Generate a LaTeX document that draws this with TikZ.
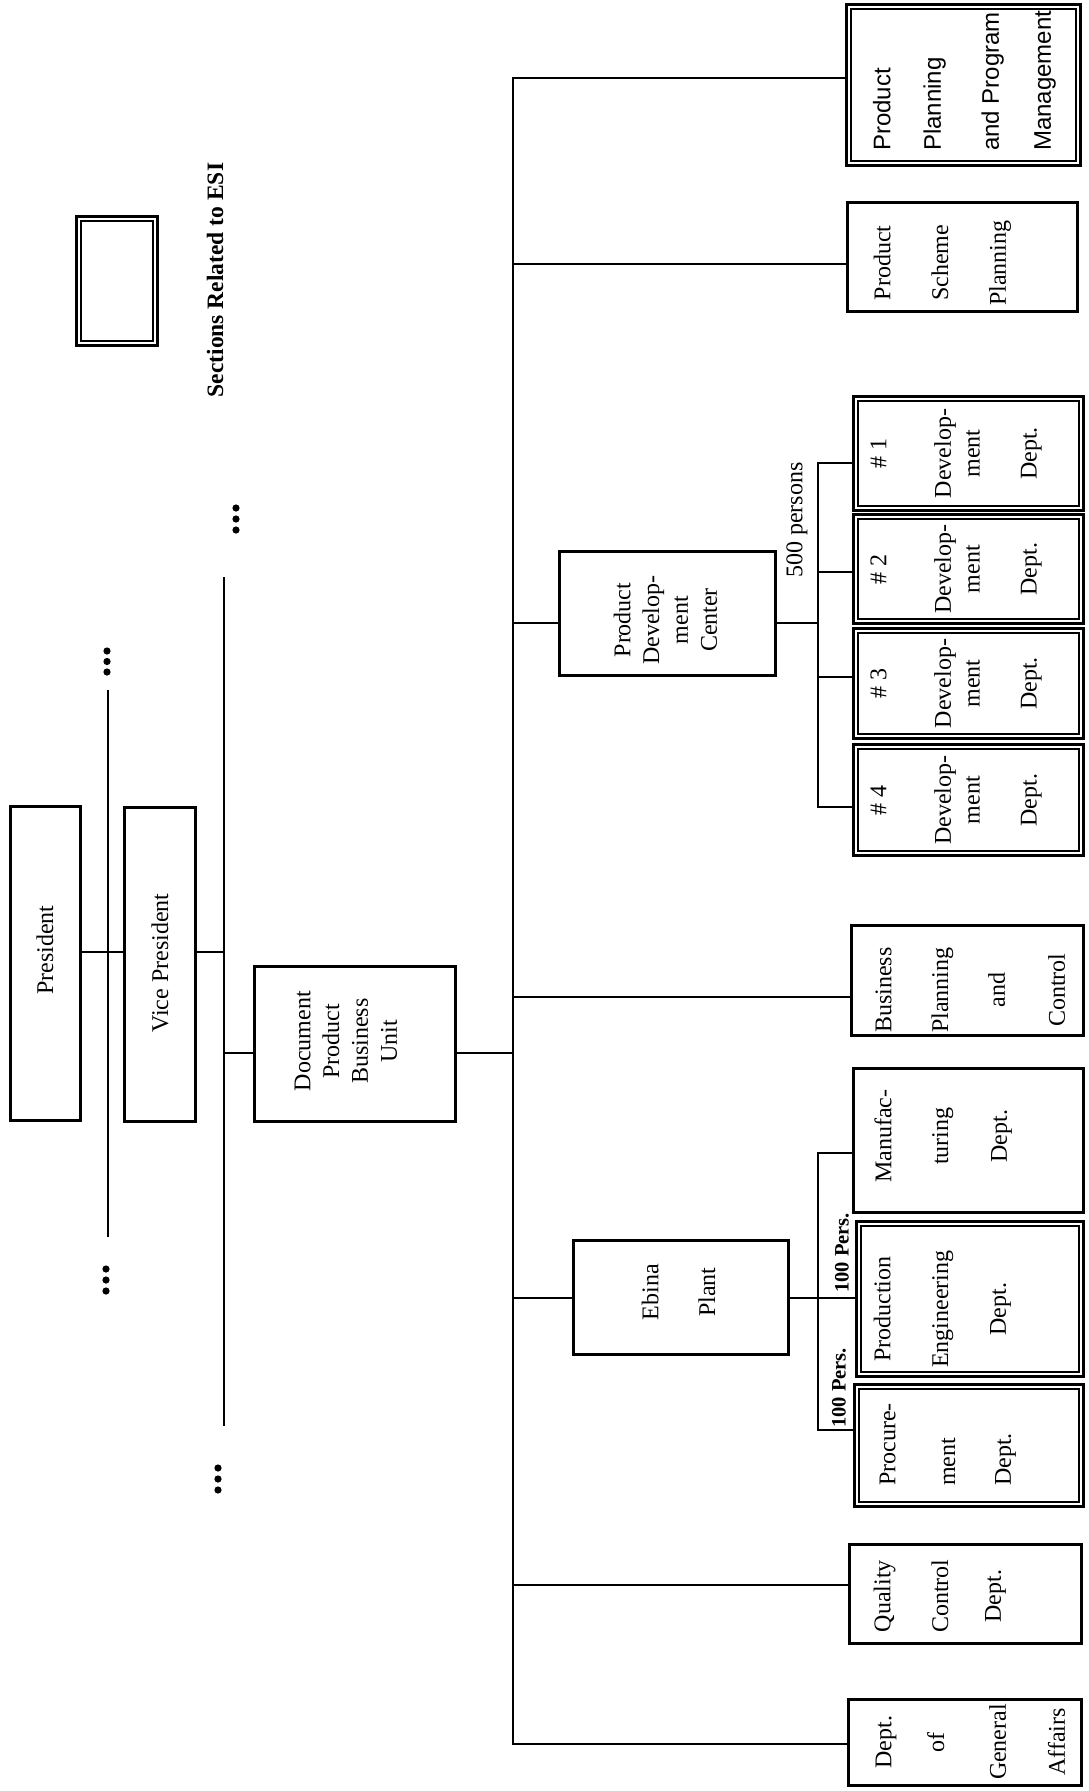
\documentclass[tikz,border=0pt]{standalone}
\usepackage{fontspec}
\usepackage{graphicx}
\setmainfont{Liberation Serif}
\newfontfamily\sansf{Liberation Sans}
\newcommand\mycol[1]{\begin{tabular}{@{}c@{}}#1\end{tabular}}
\newcommand\myleft[1]{\begin{tabular}{@{}l@{}}#1\end{tabular}}
\begin{document}
\begin{tikzpicture}[x=1pt,y=-1pt,
  box/.style={draw, line width=2.9pt, inner sep=0pt, outer sep=1.45pt},
  dbox/.style={draw, line width=2.6pt, double, double distance=2pt, inner sep=0pt, outer sep=3.6pt},
  conn/.style={line width=2.9pt, line join=miter},
  lbl/.style={rotate=90, inner sep=0pt, font=\fontsize{24}{28.8}\selectfont},
  blbl/.style={rotate=90, inner sep=0pt, font=\bfseries\fontsize{20.5}{24}\selectfont},
  dot/.style={fill=black}]
\useasboundingbox (0,0) rectangle (1088,1791);

% ---------- boxes ----------
\node[box, minimum width=70.1pt, minimum height=314.1pt] (pres) at (45.5,963.5) {};
\node[box, minimum width=71.1pt, minimum height=314.1pt] (vp) at (160,964.5) {};
\node[box, minimum width=201.1pt, minimum height=155.1pt] (doc) at (355,1044) {};
\node[dbox, minimum width=76.8pt, minimum height=124.8pt] (legend) at (117,281) {};
\node[dbox, minimum width=229.8pt, minimum height=156.8pt] (pppm) at (963.5,85) {};
\node[box, minimum width=230.1pt, minimum height=109.1pt] (psp) at (962.5,257) {};
\node[box, minimum width=216.1pt, minimum height=124.1pt] (pdc) at (667.5,613.5) {};
\node[dbox, minimum width=225.8pt, minimum height=109.8pt] (dev1) at (968.5,453.5) {};
\node[dbox, minimum width=225.8pt, minimum height=104.8pt] (dev2) at (968.5,569) {};
\node[dbox, minimum width=225.8pt, minimum height=105.8pt] (dev3) at (968.5,683.5) {};
\node[dbox, minimum width=225.8pt, minimum height=106.8pt] (dev4) at (968.5,800) {};
\node[box, minimum width=232.1pt, minimum height=110.1pt] (bpc) at (967.5,980.5) {};
\node[box, minimum width=215.1pt, minimum height=114.1pt] (ebina) at (681,1297.5) {};
\node[box, minimum width=230.1pt, minimum height=144.1pt] (mfg) at (968.5,1140.5) {};
\node[dbox, minimum width=222.8pt, minimum height=150.8pt] (pe) at (970,1299) {};
\node[dbox, minimum width=224.8pt, minimum height=117.8pt] (proc) at (969,1445.5) {};
\node[box, minimum width=232.1pt, minimum height=99.1pt] (qc) at (965.5,1594) {};
\node[box, minimum width=233.1pt, minimum height=86.1pt] (ga) at (965,1742.5) {};

% ---------- texts ----------
\node[lbl] (pres-t) at (45,950) {President};
\node[lbl] (vp-t) at (160,963) {Vice President};
\node[lbl, anchor=north] (doc-t) at (290,1041) {\mycol{Document\\Product\\Business\\Unit}};
\node[lbl, font=\bfseries\fontsize{23.5}{28}\selectfont] (esi) at (215,280) {Sections Related to ESI};
\node[lbl, anchor=north west, font=\sansf\fontsize{24}{28.8}\selectfont] (pppm-t) at (870,151)
  {\myleft{Product\\[21.7pt]Planning\\[29.2pt]and Program\\[23.2pt]Management}};
\node[lbl, anchor=north] (psp-t) at (870,263) {\mycol{Product\\[29pt]Scheme\\[29pt]Planning}};
\node[lbl, anchor=north] (pdc-t) at (610,620) {\mycol{Product\\Develop-\\ment\\Center}};
\node[lbl] (p500) at (797,520) {500 persons};
\node[lbl, anchor=north] (dev1-t) at (866,453.5) {\mycol{\# 1\\[35.7pt]Develop-\\ment\\[28.2pt]Dept.}};
\node[lbl, anchor=north] (dev2-t) at (866,569) {\mycol{\# 2\\[35.7pt]Develop-\\ment\\[28.2pt]Dept.}};
\node[lbl, anchor=north] (dev3-t) at (866,683.5) {\mycol{\# 3\\[35.7pt]Develop-\\ment\\[28.2pt]Dept.}};
\node[lbl, anchor=north] (dev4-t) at (866,800) {\mycol{\# 4\\[35.7pt]Develop-\\ment\\[28.2pt]Dept.}};
\node[lbl, anchor=north] (bpc-t) at (871,990) {\mycol{Business\\[28pt]Planning\\[28pt]and\\[31pt]Control}};
\node[lbl, anchor=north] (ebina-t) at (638,1292) {\mycol{Ebina\\[28pt]Plant}};
\node[lbl, anchor=north] (mfg-t) at (871,1136) {\mycol{Manufac-\\[28pt]turing\\[30pt]Dept.}};
\node[lbl, anchor=north] (pe-t) at (870,1309) {\mycol{Production\\[29pt]Engineering\\[29pt]Dept.}};
\node[lbl, anchor=north west] (proc-t) at (875,1486) {\myleft{Procure-\\[31pt]ment\\[27pt]Dept.}};
\node[lbl, anchor=north] (qc-t) at (870,1596) {\mycol{Quality\\[29pt]Control\\[24pt]Dept.}};
\node[lbl, anchor=north] (ga-t) at (871,1742) {\mycol{Dept.\\[24pt]of\\[33pt]General\\[30pt]Affairs}};
\node[blbl] (pers1) at (842,1253) {100 Pers.};
\node[blbl] (pers2) at (839,1388) {100 Pers.};

% ---------- coordinates ----------
\coordinate (l1top) at (108,690);  \coordinate (l1bot) at (108,1237);
\coordinate (l2top) at (224,577);  \coordinate (l2bot) at (224,1426);
\coordinate (j1) at (108,952);     \coordinate (j2) at (224,1053);
\coordinate (t-pppm) at (513,78);  \coordinate (t-psp) at (513,264);
\coordinate (t-pdc) at (513,623);  \coordinate (t-bpc) at (513,997);
\coordinate (t-doc) at (513,1053); \coordinate (t-ebina) at (513,1298);
\coordinate (t-qc) at (513,1585);  \coordinate (t-ga) at (513,1744);
\coordinate (d1) at (818,463); \coordinate (d2) at (818,572);
\coordinate (d3) at (818,677); \coordinate (d4) at (818,807);
\coordinate (d0) at (818,623);
\coordinate (e1) at (818,1153); \coordinate (e2) at (818,1298); \coordinate (e3) at (818,1430);

% ---------- connectors ----------
\draw[conn] (l1top) -- (l1bot);
\draw[conn] (l2top) -- (l2bot);
\draw[conn] (pres.east |- j1) -- (vp.west |- j1);
\draw[conn] (vp.east |- j1) -- (l2top |- j1);
\draw[conn] (j2) -- (doc.west |- j2);
\draw[conn] (doc.east |- t-doc) -- (t-doc);
\draw[conn] (pppm.west |- t-pppm) -- (t-pppm) -- (t-ga) -- (ga.west |- t-ga);
\draw[conn] (t-psp) -- (psp.west |- t-psp);
\draw[conn] (t-pdc) -- (pdc.west |- t-pdc);
\draw[conn] (t-bpc) -- (bpc.west |- t-bpc);
\draw[conn] (t-ebina) -- (ebina.west |- t-ebina);
\draw[conn] (t-qc) -- (qc.west |- t-qc);
\draw[conn] (pdc.east |- d0) -- (d0);
\draw[conn] (dev1.west |- d1) -- (d1) -- (d4) -- (dev4.west |- d4);
\draw[conn] (d2) -- (dev2.west |- d2);
\draw[conn] (d3) -- (dev3.west |- d3);
\draw[conn] (ebina.east |- e2) -- (e2);
\draw[conn] (mfg.west |- e1) -- (e1) -- (e3) -- (proc.west |- e3);
\draw[conn] (e2) -- (pe.west |- e2);

% ---------- continuation dots ----------
\foreach \yy in {651,661.5,672} \fill[dot] (107,\yy) circle (3.6pt);
\foreach \yy in {1269,1280,1291} \fill[dot] (106,\yy) circle (3.6pt);
\foreach \yy in {508,519,530} \fill[dot] (236,\yy) circle (3.6pt);
\foreach \yy in {1468,1479,1490} \fill[dot] (218,\yy) circle (3.6pt);
\end{tikzpicture}
\end{document}
